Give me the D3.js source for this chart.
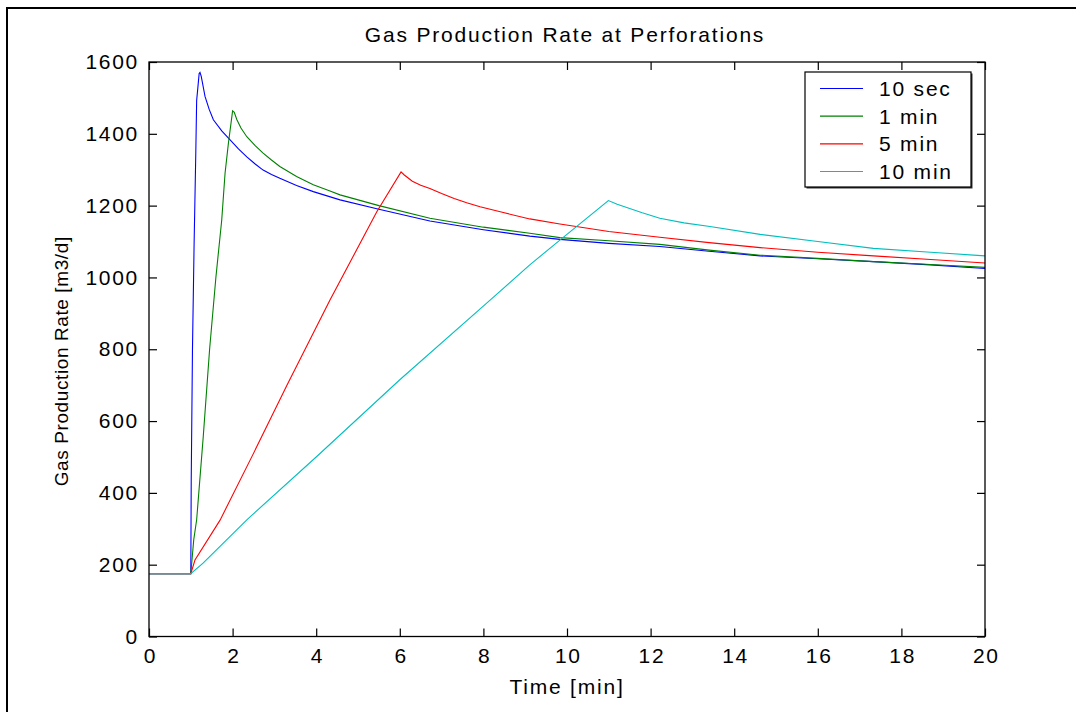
<!DOCTYPE html>
<html>
<head>
<meta charset="utf-8">
<script src="https://cdn.jsdelivr.net/npm/d3@7"></script>
<style>
  html, body { margin: 0; padding: 0; background: #fff; }
  svg { display: block; }
  text { font-family: "Liberation Sans", Arial, sans-serif; fill: #000; }
</style>
</head>
<body>
<svg id="chart" width="1076" height="712"></svg>
<script>
// Gas production rate at the perforations for four ramp-up durations.
const seriesNames = ["10 sec", "1 min", "5 min", "10 min"];
const seriesColors = ["#0000ff", "#008000", "#ff0000", "#00bfbf"];

// Time [min] and rate [m3/d] for each ramp duration
const tSec10 = [0, 1.0, 1.01, 1.04, 1.08, 1.12, 1.14, 1.17, 1.20, 1.22, 1.25, 1.34, 1.44, 1.54, 1.74, 1.94, 2.14, 2.34, 2.54, 2.73, 2.93, 3.13, 3.53, 3.93, 4.57, 5.5, 6.72, 8.0, 9.11, 9.83, 11.0, 12.22, 13.4, 14.62, 16.0, 17.33, 18.7, 20];
const qSec10 = [175, 175, 430, 800, 1100, 1350, 1493, 1530, 1568, 1571, 1560, 1504, 1468, 1439, 1408, 1383, 1358, 1336, 1316, 1299, 1287, 1276, 1256, 1239, 1216, 1190, 1157, 1133, 1115, 1106, 1095, 1086, 1073, 1060, 1052, 1044, 1035, 1025];

const tMin1 = [0, 1.0, 1.07, 1.14, 1.3, 1.45, 1.6, 1.74, 1.82, 1.90, 2.0, 2.04, 2.1, 2.2, 2.34, 2.54, 2.73, 2.93, 3.13, 3.53, 3.93, 4.33, 4.57, 5.5, 6.72, 8.0, 9.11, 9.83, 11.0, 12.22, 13.4, 14.62, 16.0, 17.33, 18.7, 20];
const qMin1 = [175, 175, 269, 325, 560, 800, 1000, 1160, 1291, 1374, 1464, 1460, 1440, 1416, 1392, 1367, 1346, 1327, 1309, 1281, 1258, 1241, 1230, 1200, 1165, 1140, 1123, 1111, 1102, 1092, 1076, 1062, 1053, 1044, 1036, 1028];

const tMin5 = [0, 1.0, 1.1, 1.7, 2.5, 3.3, 4.33, 5.45, 6.03, 6.1, 6.3, 6.5, 6.72, 7.0, 7.3, 7.6, 7.92, 8.5, 9.11, 9.83, 11.0, 12.22, 13.4, 14.62, 16.0, 17.33, 18.7, 20];
const qMin5 = [175, 175, 213, 324, 510, 700, 937, 1183, 1294, 1286, 1268, 1257, 1248, 1234, 1220, 1208, 1197, 1180, 1163, 1149, 1128, 1112, 1097, 1083, 1070, 1060, 1050, 1040];

const tMin10 = [0, 1.0, 1.3, 2.34, 4.0, 6.0, 8.16, 9.11, 9.83, 10.99, 11.2, 11.5, 11.8, 12.22, 12.8, 13.42, 14.62, 16.0, 17.33, 18.7, 20];
const qMin10 = [175, 175, 205, 325, 500, 715, 937, 1035, 1104, 1214, 1204, 1192, 1180, 1165, 1152, 1142, 1120, 1100, 1081, 1070, 1060];

const xTicks = [0, 2, 4, 6, 8, 10, 12, 14, 16, 18, 20];
const yTicks = [0, 200, 400, 600, 800, 1000, 1200, 1400, 1600];

const series = [
  { name: seriesNames[0], color: seriesColors[0], t: tSec10, q: qSec10 },
  { name: seriesNames[1], color: seriesColors[1], t: tMin1, q: qMin1 },
  { name: seriesNames[2], color: seriesColors[2], t: tMin5, q: qMin5 },
  { name: seriesNames[3], color: seriesColors[3], t: tMin10, q: qMin10 }
];

const svg = d3.select("#chart");
const W = 1076, H = 712;
const plot = { left: 149, right: 985, top: 62, bottom: 636.5 };

// Figure frame
svg.append("path")
  .attr("d", `M7,${H} V8 H${W}`)
  .attr("fill", "none").attr("stroke", "#000").attr("stroke-width", 2);

const x = d3.scaleLinear().domain([0, 20]).range([plot.left, plot.right]);
const y = d3.scaleLinear().domain([0, 1600]).range([plot.bottom, plot.top]);

const tickLen = 8;
const fontSize = 21;
const spacing = 1.7;

// Curves
const line = d3.line().x(d => x(d[0])).y(d => y(d[1]));
svg.append("clipPath").attr("id", "clip").append("rect")
  .attr("x", plot.left).attr("y", plot.top)
  .attr("width", plot.right - plot.left).attr("height", plot.bottom - plot.top);
const curves = svg.append("g").attr("clip-path", "url(#clip)");
series.forEach(s => {
  curves.append("path")
    .datum(s.t.map((t, i) => [t, s.q[i]]))
    .attr("fill", "none")
    .attr("stroke", s.color)
    .attr("stroke-width", 1.1)
    .attr("d", line);
});

// Axes: inward ticks on all four sides, labels on bottom and left
const axisStyle = g => {
  g.select(".domain").remove();
  g.selectAll(".tick line").attr("stroke", "#000").attr("stroke-width", 1.2);
  g.selectAll("text").style("font-family", "'Liberation Sans', Arial, sans-serif")
    .style("font-size", fontSize + "px").style("letter-spacing", spacing + "px").attr("fill", "#000");
};

svg.append("g").attr("transform", `translate(0,${plot.bottom})`)
  .call(d3.axisBottom(x).tickValues(xTicks).tickFormat(d3.format("d")).tickSizeInner(-tickLen).tickSizeOuter(0).tickPadding(12))
  .call(axisStyle)
  .call(g => g.selectAll("text").attr("dx", spacing / 2));
svg.append("g").attr("transform", `translate(0,${plot.top})`)
  .call(d3.axisTop(x).tickValues(xTicks).tickFormat("").tickSizeInner(-tickLen).tickSizeOuter(0))
  .call(axisStyle);
svg.append("g").attr("transform", `translate(${plot.left},0)`)
  .call(d3.axisLeft(y).tickValues(yTicks).tickFormat(d3.format("d")).tickSizeInner(-tickLen).tickSizeOuter(0).tickPadding(10))
  .call(axisStyle);
svg.append("g").attr("transform", `translate(${plot.right},0)`)
  .call(d3.axisRight(y).tickValues(yTicks).tickFormat("").tickSizeInner(-tickLen).tickSizeOuter(0))
  .call(axisStyle);

// Axes box
svg.append("rect")
  .attr("x", plot.left).attr("y", plot.top)
  .attr("width", plot.right - plot.left).attr("height", plot.bottom - plot.top)
  .attr("fill", "none").attr("stroke", "#000").attr("stroke-width", 1.3);

// Title and axis labels
const cx = (plot.left + plot.right) / 2;
svg.append("text").attr("x", cx - 2).attr("y", 42).attr("text-anchor", "middle")
  .style("font-size", fontSize + "px").style("letter-spacing", "1.8px")
  .text("Gas Production Rate at Perforations");
svg.append("text").attr("x", cx).attr("y", 694).attr("text-anchor", "middle")
  .style("font-size", fontSize + "px").style("letter-spacing", "1.8px")
  .text("Time [min]");
svg.append("text")
  .attr("transform", `translate(68,${(plot.top + plot.bottom) / 2 + 12}) rotate(-90)`)
  .attr("text-anchor", "middle")
  .style("font-size", "19px").style("letter-spacing", "0.6px")
  .text("Gas Production Rate [m3/d]");

// Legend
const lg = { x: 805, y: 72, w: 166, h: 115 };
const legend = svg.append("g");
legend.append("rect")
  .attr("x", lg.x + 1.5).attr("y", lg.y + 1.5).attr("width", lg.w).attr("height", lg.h)
  .attr("fill", "#333");
legend.append("rect")
  .attr("x", lg.x).attr("y", lg.y).attr("width", lg.w).attr("height", lg.h)
  .attr("fill", "#fff").attr("stroke", "#000").attr("stroke-width", 1.2);
const rowY = d3.scalePoint().domain(seriesNames).range([88.5, 171.5]);
series.forEach(s => {
  const yy = rowY(s.name);
  legend.append("line")
    .attr("x1", 820).attr("x2", 863).attr("y1", yy).attr("y2", yy)
    .attr("stroke", s.color).attr("stroke-width", 1.1);
  legend.append("text").attr("x", 879).attr("y", yy + 7.5)
    .style("font-size", fontSize + "px").style("letter-spacing", "1.8px")
    .text(s.name);
});
</script>
</body>
</html>
